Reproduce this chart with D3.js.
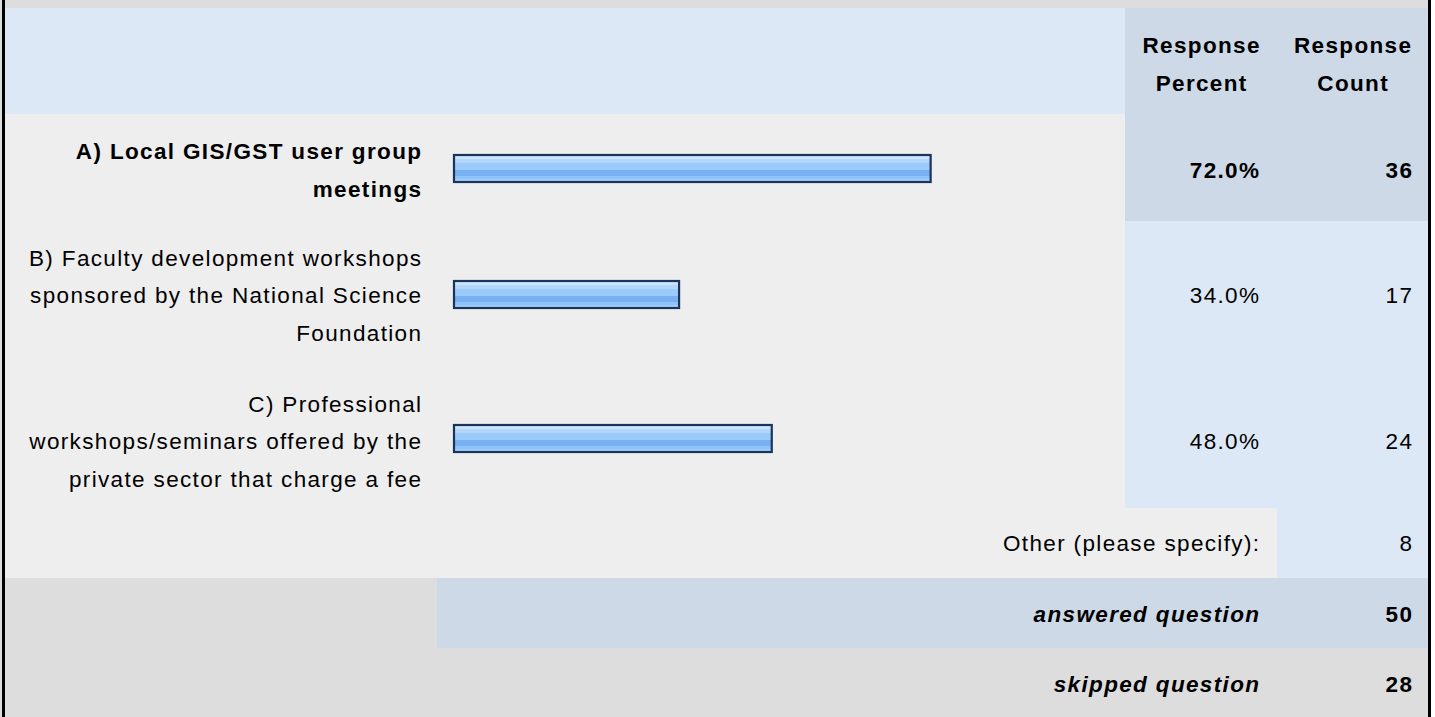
<!DOCTYPE html>
<html>
<head>
<meta charset="utf-8">
<script src="https://cdn.jsdelivr.net/npm/d3@7/dist/d3.min.js"></script>
<style>
  html, body { margin: 0; padding: 0; background: #ffffff; }
  svg { display: block; }
  text { font-family: "Liberation Sans", Arial, Helvetica, sans-serif; fill: #000; }
</style>
</head>
<body>
<svg id="chart" width="1435" height="717"></svg>
<script>
// Survey answers
const labelLines = [
  ["A) Local GIS/GST user group", "meetings"],
  ["B) Faculty development workshops", "sponsored by the National Science", "Foundation"],
  ["C) Professional", "workshops/seminars offered by the", "private sector that charge a fee"]
];
const percents = [72.0, 34.0, 48.0];
const counts = [36, 17, 24];
const highlighted = [true, false, false];

const headerPercent = ["Response", "Percent"];
const headerCount = ["Response", "Count"];
const otherLabel = "Other (please specify):";
const otherCount = 8;
const summaryLabels = ["answered question", "skipped question"];
const summaryCounts = [50, 28];

// Layout
const W = 1435, H = 717;
const left = 5, right = 1428;
const colPct = 1125, colCnt = 1277;
const headerTop = 8, headerBottom = 114;
const rowBounds = [114, 221, 366, 508];
const otherBottom = 578, answeredBottom = 648;
const textMid = [170, 295, 441];
const barMid = [168.5, 294.5, 438.5];
const barH = 27;
const lineH = 37.5;
const fontSize = 22.5, spacing = 1.35;

const svg = d3.select("#chart");

const x = d3.scaleLinear().domain([0, 100]).range([454, 454 + 662]);

// Gradient for the glossy bars
const defs = svg.append("defs");
const grad = defs.append("linearGradient")
  .attr("id", "barFill").attr("x1", 0).attr("y1", 0).attr("x2", 0).attr("y2", 1);
[
  [0, "#cde4fe"], [0.14, "#cde4fe"], [0.15, "#b3d6fc"], [0.28, "#b3d6fc"],
  [0.29, "#9bcbfd"], [0.56, "#9bcbfd"], [0.57, "#78b0f1"], [0.76, "#78b0f1"],
  [0.77, "#8fc3fa"], [0.9, "#8fc3fa"], [0.91, "#a7d1fc"], [1, "#a7d1fc"]
].forEach(([o, c]) => grad.append("stop").attr("offset", o).attr("stop-color", c));

// Backgrounds
const bg = svg.append("g");
bg.append("rect").attr("x", 0).attr("y", 0).attr("width", W).attr("height", H).attr("fill", "#dddddd");
bg.append("rect").attr("x", left).attr("y", headerTop).attr("width", colPct - left)
  .attr("height", headerBottom - headerTop).attr("fill", "#dce8f5");
bg.append("rect").attr("x", colPct).attr("y", headerTop).attr("width", right - colPct)
  .attr("height", rowBounds[1] - headerTop).attr("fill", "#cdd9e6");
bg.append("rect").attr("x", left).attr("y", rowBounds[0]).attr("width", colPct - left)
  .attr("height", rowBounds[3] - rowBounds[0]).attr("fill", "#eeeeee");
bg.append("rect").attr("x", colPct).attr("y", rowBounds[1]).attr("width", right - colPct)
  .attr("height", rowBounds[3] - rowBounds[1]).attr("fill", "#dce8f5");
bg.append("rect").attr("x", left).attr("y", rowBounds[3]).attr("width", colCnt - left)
  .attr("height", otherBottom - rowBounds[3]).attr("fill", "#eeeeee");
bg.append("rect").attr("x", colCnt).attr("y", rowBounds[3]).attr("width", right - colCnt)
  .attr("height", otherBottom - rowBounds[3]).attr("fill", "#dce8f5");
bg.append("rect").attr("x", 437).attr("y", otherBottom).attr("width", right - 437)
  .attr("height", answeredBottom - otherBottom).attr("fill", "#cdd9e6");
// frame
bg.append("rect").attr("x", 2).attr("y", 0).attr("width", 3).attr("height", H).attr("fill", "#000");
bg.append("rect").attr("x", right).attr("y", 0).attr("width", 3).attr("height", H).attr("fill", "#000");
bg.append("rect").attr("x", right + 3).attr("y", 0).attr("width", W - right - 3).attr("height", H).attr("fill", "#ffffff");

function txt(g, s, xPos, y, anchor, weight, style) {
  return g.append("text")
    .attr("x", xPos).attr("y", y)
    .attr("text-anchor", anchor)
    .style("font-size", fontSize + "px")
    .style("letter-spacing", spacing + "px")
    .style("font-weight", weight || "normal")
    .style("font-style", style || "normal")
    .text(s);
}

// Header
const head = svg.append("g");
const pctCenter = (colPct + colCnt) / 2 + spacing / 2;
const cntCenter = (colCnt + right) / 2 + spacing / 2;
headerPercent.forEach((s, i) => txt(head, s, pctCenter, 53 + i * 38, "middle", "bold"));
headerCount.forEach((s, i) => txt(head, s, cntCenter, 53 + i * 38, "middle", "bold"));

// Rows
const pctRight = 1259 + spacing;
const cntRight = 1412 + spacing;
const labelRight = 421 + spacing;
const rows = svg.append("g").selectAll("g").data(percents).join("g");

rows.each(function (p, i) {
  const g = d3.select(this);
  const weight = highlighted[i] ? "bold" : "normal";
  const lines = labelLines[i];
  lines.forEach((s, k) => {
    const y = textMid[i] + 8 + (k - (lines.length - 1) / 2) * lineH;
    txt(g, s, labelRight, y, "end", weight);
  });
  g.append("rect")
    .attr("x", x(0))
    .attr("y", barMid[i] - barH / 2)
    .attr("width", x(p) - x(0))
    .attr("height", barH)
    .attr("fill", "url(#barFill)")
    .attr("stroke", "#1b3459")
    .attr("stroke-width", 2.2);
  txt(g, d3.format(".1f")(p) + "%", pctRight, textMid[i] + 8, "end", weight);
  txt(g, counts[i], cntRight, textMid[i] + 8, "end", weight);
});

// Other
const other = svg.append("g");
txt(other, otherLabel, pctRight, 551, "end");
txt(other, otherCount, cntRight, 551, "end");

// Summary
const sum = svg.append("g");
summaryLabels.forEach((s, i) => {
  const y = 622 + i * 69.5;
  txt(sum, s, pctRight, y, "end", "bold", "italic");
  txt(sum, summaryCounts[i], cntRight, y, "end", "bold");
});
</script>
</body>
</html>
